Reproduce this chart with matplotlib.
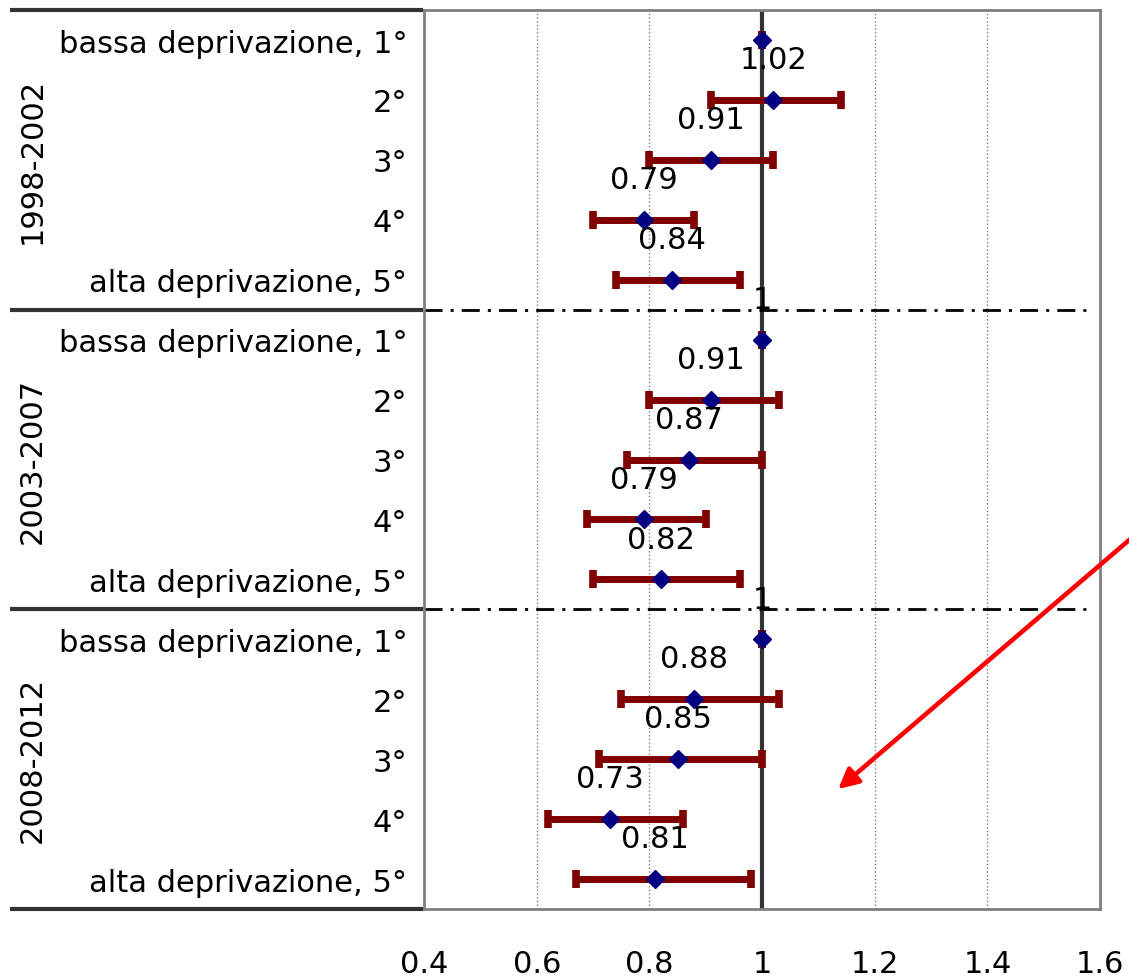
import matplotlib
matplotlib.use('Agg')
import matplotlib.pyplot as plt
import matplotlib.transforms as mtransforms

# rischio relativo per quintile di deprivazione, con intervalli di confidenza
periods = ['1998-2002', '2003-2007', '2008-2012']
quintiles = ['bassa deprivazione, 1°', '2°', '3°', '4°', 'alta deprivazione, 5°']

rr_9802 = [1, 1.02, 0.91, 0.79, 0.84]
lo_9802 = [1, 0.91, 0.80, 0.70, 0.74]
hi_9802 = [1, 1.14, 1.02, 0.88, 0.96]

rr_0307 = [1, 0.91, 0.87, 0.79, 0.82]
lo_0307 = [1, 0.80, 0.76, 0.69, 0.70]
hi_0307 = [1, 1.03, 1.00, 0.90, 0.96]

rr_0812 = [1, 0.88, 0.85, 0.73, 0.81]
lo_0812 = [1, 0.75, 0.71, 0.62, 0.67]
hi_0812 = [1, 1.03, 1.00, 0.86, 0.98]

x_ticks = [0.4, 0.6, 0.8, 1.0, 1.2, 1.4, 1.6]
x_tick_labels = ['0.4', '0.6', '0.8', '1', '1.2', '1.4', '1.6']

rr = rr_9802 + rr_0307 + rr_0812
lo = lo_9802 + lo_0307 + lo_0812
hi = hi_9802 + hi_0307 + hi_0812
rows = list(range(len(rr)))
labels = quintiles * len(periods)

fig = plt.figure(figsize=(11.29, 9.79), dpi=100)
ax = fig.add_axes([0.3756, 0.0705, 0.5988, 0.9182])

ax.set_xlim(0.4, 1.6)
ax.set_ylim(len(rr) - 0.5, -0.5)

# griglia verticale
for x in x_ticks[1:-1]:
	if x != 1.0:
		ax.axvline(x, color='#808080', lw=1, ls=':', zorder=1)
ax.axvline(1.0, color='#333333', lw=3, zorder=2)

# separatori tra periodi
for k in range(1, len(periods)):
	ax.plot([0.4, 1.59], [k * 5 - 0.5] * 2, color='black', lw=2,
			ls=(0, (6.5, 2.9, 1.1, 2.9)), zorder=2)

err_lo = [r - l for r, l in zip(rr, lo)]
err_hi = [h - r for r, h in zip(rr, hi)]
ax.errorbar(rr, rows, xerr=[err_lo, err_hi], fmt='D', color='#000080',
			markersize=9, ecolor='#800000', elinewidth=5, capsize=6.5,
			capthick=5.5, zorder=3)

# etichette dei valori (la prima cade fuori dal grafico)
for r, y in zip(rr[1:], rows[1:]):
	ax.annotate(f'{r:g}', xy=(r, y), xytext=(0, 29), textcoords='offset points',
				ha='center', va='center', fontsize=22, zorder=4)

ax.set_yticks(rows)
ax.set_yticklabels(labels, fontsize=22)
ax.tick_params(axis='y', length=0, pad=12)
ax.set_xticks(x_ticks)
ax.set_xticklabels(x_tick_labels, fontsize=22)
ax.tick_params(axis='x', length=0, pad=29)

for s in ax.spines.values():
	s.set_color('#808080')
	s.set_linewidth(2)

# cornice della tabella a sinistra
trans = mtransforms.blended_transform_factory(ax.transAxes, ax.transData)
for k in range(len(periods) + 1):
	ax.plot([-0.612, -0.002], [k * 5 - 0.5] * 2, color='#333333', lw=3,
			transform=trans, clip_on=False, solid_capstyle='butt')
for k, p in enumerate(periods):
	ax.text(-0.58, k * 5 + 2, p, rotation=90, ha='center', va='center',
			fontsize=22, transform=trans)

# freccia
ax.annotate('', xy=(1.135, 12.5), xytext=(1.662, 8.26),
			arrowprops=dict(arrowstyle='-|>', color='red', lw=3.3,
							mutation_scale=30, shrinkA=0, shrinkB=0),
			annotation_clip=False)

plt.savefig('out.png', dpi=100)
